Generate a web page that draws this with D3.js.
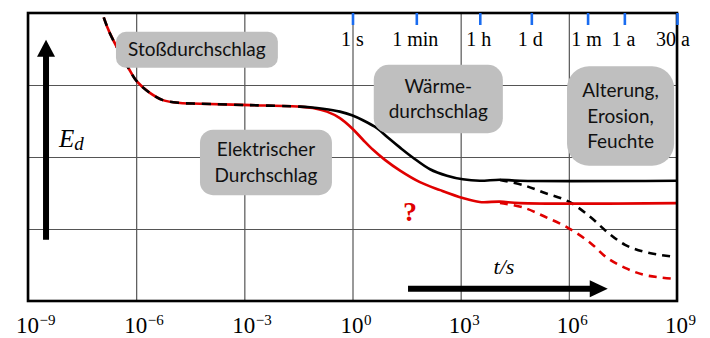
<!DOCTYPE html>
<html><head><meta charset="utf-8">
<script src="https://cdn.jsdelivr.net/npm/d3@7"></script>
<style>body{margin:0;background:#fff}</style></head>
<body><svg id="c" width="710" height="338"></svg>
<script>
// ---- data (x = log10(t/s), y = relative field strength E_d) ----
const xTickExps = [-9, -6, -3, 0, 3, 6, 9];
const yGridVals = [0, 1, 2, 3, 4];
const timeLabels = ["1 s", "1 min", "1 h", "1 d", "1 m", "1 a", "30 a"];
const timeLogs = [0, 1.77, 3.53, 4.96, 6.52, 7.54, 9];

const commonLogT = [-6.90, -6.73, -6.23, -5.98, -5.62, -5.26, -4.78, -4.23, -2.84, -1.46];
const commonE    = [3.94, 3.72, 3.25, 3.05, 2.89, 2.79, 2.75, 2.74, 2.72, 2.70];

const blackLogT = [-1.46, -1.18, -0.82, -0.35, -0.015, 0.29, 0.68, 0.98, 1.32, 1.68, 2.15, 2.62, 3.06, 3.53, 4.09, 4.64, 9.0];
const blackE    = [2.70, 2.69, 2.67, 2.63, 2.58, 2.51, 2.40, 2.27, 2.13, 1.99, 1.83, 1.74, 1.69, 1.67, 1.685, 1.67, 1.67];

const redLogT = [-1.46, -1.10, -0.71, -0.35, -0.015, 0.29, 0.57, 0.90, 1.32, 1.87, 2.43, 3.06, 3.53, 4.09, 4.64, 9.0];
const redE    = [2.70, 2.68, 2.63, 2.54, 2.40, 2.24, 2.10, 1.96, 1.81, 1.65, 1.54, 1.43, 1.375, 1.38, 1.36, 1.36];

const blackAgeLogT = [4.09, 4.73, 5.34, 6.00, 6.59, 7.06, 7.56, 8.11, 8.89];
const blackAgeE    = [1.68, 1.61, 1.50, 1.38, 1.17, 0.96, 0.78, 0.68, 0.615];

const redAgeLogT = [4.09, 4.73, 5.34, 6.00, 6.59, 7.06, 7.56, 8.11, 8.89];
const redAgeE    = [1.36, 1.30, 1.17, 1.01, 0.81, 0.60, 0.46, 0.36, 0.31];

const boxes = [
  {lines: ["Stoßdurchschlag"], x0: -6.56, x1: -2.07, y0: 3.74, y1: 3.24, r: 10},
  {lines: ["Elektrischer", "Durchschlag"], x0: -4.23, x1: -0.57, y0: 2.38, y1: 1.47, r: 13},
  {lines: ["Wärme-", "durchschlag"], x0: 0.59, x1: 4.17, y0: 3.28, y1: 2.33, r: 15},
  {lines: ["Alterung,", "Erosion,", "Feuchte"], x0: 5.95, x1: 8.92, y0: 3.26, y1: 1.88, r: 22}
];

// ---- layout ----
const L = 28, R = 677, T = 13, B = 301;
const svg = d3.select("#c");
const x = d3.scaleLinear().domain([-9, 9]).range([L, R]);
const y = d3.scaleLinear().domain([0, 4]).range([B, T]);

// grid
const gx = svg.append("g").attr("transform", `translate(0,${B})`)
  .call(d3.axisBottom(x).tickValues(xTickExps).tickSize(-(B - T)).tickFormat(""));
gx.select(".domain").remove();
gx.selectAll(".tick line").attr("stroke", "#555").attr("stroke-width", 1.2);

const gy = svg.append("g").attr("transform", `translate(${L},0)`)
  .call(d3.axisLeft(y).tickValues(yGridVals).tickSize(-(R - L)).tickFormat(""));
gy.select(".domain").remove();
gy.selectAll(".tick line").attr("stroke", "#555").attr("stroke-width", 1.2);

// x labels 10^n
gx.selectAll(".tick").each(function(d) {
  const g = d3.select(this);
  g.append("text").attr("x", -1).attr("y", 32).attr("text-anchor", "middle")
    .attr("font-family", "Liberation Serif").attr("font-size", 23).attr("fill", "#000").text("10");
  g.append("text").attr("x", 11).attr("y", 24).attr("text-anchor", "start")
    .attr("font-family", "Liberation Serif").attr("font-size", 15).attr("fill", "#000")
    .text(d < 0 ? "\u2212" + Math.abs(d) : String(d));
});

// curves
const line = d3.line().x(d => x(d[0])).y(d => y(d[1])).curve(d3.curveCatmullRom.alpha(0.5));
const zip = (a, b) => a.map((v, i) => [v, b[i]]);
const commonPts = zip(commonLogT, commonE);
const redPts = commonPts.concat(zip(redLogT, redE).slice(1));
const blackPts = commonPts.concat(zip(blackLogT, blackE).slice(1));

svg.append("path").attr("d", line(zip(redAgeLogT, redAgeE))).attr("fill", "none")
  .attr("stroke", "#e00000").attr("stroke-width", 2.6).attr("stroke-dasharray", "8,6");
svg.append("path").attr("d", line(zip(blackAgeLogT, blackAgeE))).attr("fill", "none")
  .attr("stroke", "#000").attr("stroke-width", 2.6).attr("stroke-dasharray", "8,6");
svg.append("path").attr("d", line(redPts)).attr("fill", "none")
  .attr("stroke", "#e00000").attr("stroke-width", 2.6);

// black: dashed over the shared part, solid afterwards
const tmp = svg.append("path").attr("d", line(commonPts)).attr("fill", "none").attr("stroke", "none");
const commonLen = tmp.node().getTotalLength();
tmp.remove();
const dashes = [];
for (let s = 0; s + 16 <= commonLen; s += 16) dashes.push(9, 7);
const used = dashes.reduce((a, b) => a + b, 0);
dashes.push(commonLen - used, 0, 10000, 0);
svg.append("path").attr("d", line(blackPts)).attr("fill", "none")
  .attr("stroke", "#000").attr("stroke-width", 2.6).attr("stroke-dasharray", dashes.join(","));

// boxes
boxes.forEach(b => {
  const bx = x(b.x0), by = y(b.y0), bw = x(b.x1) - x(b.x0), bh = y(b.y1) - y(b.y0);
  svg.append("rect").attr("x", bx).attr("y", by).attr("width", bw).attr("height", bh)
    .attr("rx", b.r).attr("ry", b.r).attr("fill", "#bfbfbf");
  const lh = 25.5;
  const cy = by + bh / 2 - (b.lines.length - 1) * lh / 2;
  b.lines.forEach((t, i) => {
    svg.append("text").attr("x", bx + bw / 2).attr("y", cy + i * lh).attr("dy", "0.35em")
      .attr("text-anchor", "middle").attr("font-family", "Lato").attr("font-size", 19)
      .attr("fill", "#111").text(t);
  });
});

// frame
svg.append("rect").attr("x", L).attr("y", T).attr("width", R - L).attr("height", B - T)
  .attr("fill", "none").attr("stroke", "#000").attr("stroke-width", 2.6);

// top time ticks
const gt = svg.append("g").attr("transform", `translate(0,${T})`)
  .call(d3.axisTop(x).tickValues(timeLogs).tickSize(-12).tickFormat(""));
gt.select(".domain").remove();
gt.selectAll(".tick line").attr("stroke", "#1a6cf0").attr("stroke-width", 2.6);
timeLogs.forEach((v, i) => {
  svg.append("text").attr("x", x(v) - (i === 6 ? 4 : (i === 0 ? 0 : 1))).attr("y", 46)
    .attr("text-anchor", "middle").attr("font-family", "Liberation Serif").attr("font-size", 20)
    .attr("fill", "#000").attr("xml:space", "preserve").text(timeLabels[i]);
});

// arrows
const arrowV = {x: -8.5, yFrom: 0.85, yTo: 3.63};
const vx = x(arrowV.x);
svg.append("line").attr("x1", vx).attr("x2", vx).attr("y1", y(arrowV.yFrom)).attr("y2", y(arrowV.yTo) + 12)
  .attr("stroke", "#000").attr("stroke-width", 6);
svg.append("path").attr("d", `M${vx - 9},${y(arrowV.yTo) + 17} L${vx},${y(arrowV.yTo)} L${vx + 9},${y(arrowV.yTo) + 17} Z`).attr("fill", "#000");

const arrowH = {y: 0.17, xFrom: 1.54, xTo: 7.08};
const hy = y(arrowH.y);
svg.append("line").attr("x1", x(arrowH.xFrom)).attr("x2", x(arrowH.xTo) - 12).attr("y1", hy).attr("y2", hy)
  .attr("stroke", "#000").attr("stroke-width", 6);
svg.append("path").attr("d", `M${x(arrowH.xTo) - 18},${hy - 8.5} L${x(arrowH.xTo)},${hy} L${x(arrowH.xTo) - 18},${hy + 8.5} Z`).attr("fill", "#000");

// axis titles
const ed = svg.append("text").attr("x", 59).attr("y", 147).attr("font-family", "Liberation Serif")
  .attr("font-style", "italic").attr("font-size", 25).attr("fill", "#000");
ed.append("tspan").text("E");
ed.append("tspan").attr("dy", 3).attr("font-size", 19).text("d");

svg.append("text").attr("x", 504).attr("y", 274).attr("text-anchor", "middle")
  .attr("font-family", "Liberation Serif").attr("font-style", "italic").attr("font-size", 22)
  .attr("fill", "#000").text("t/s");

svg.append("text").attr("x", 410).attr("y", 221).attr("text-anchor", "middle")
  .attr("font-family", "Liberation Serif").attr("font-weight", "bold").attr("font-size", 28)
  .attr("fill", "#e00000").text("?");
</script></body></html>
